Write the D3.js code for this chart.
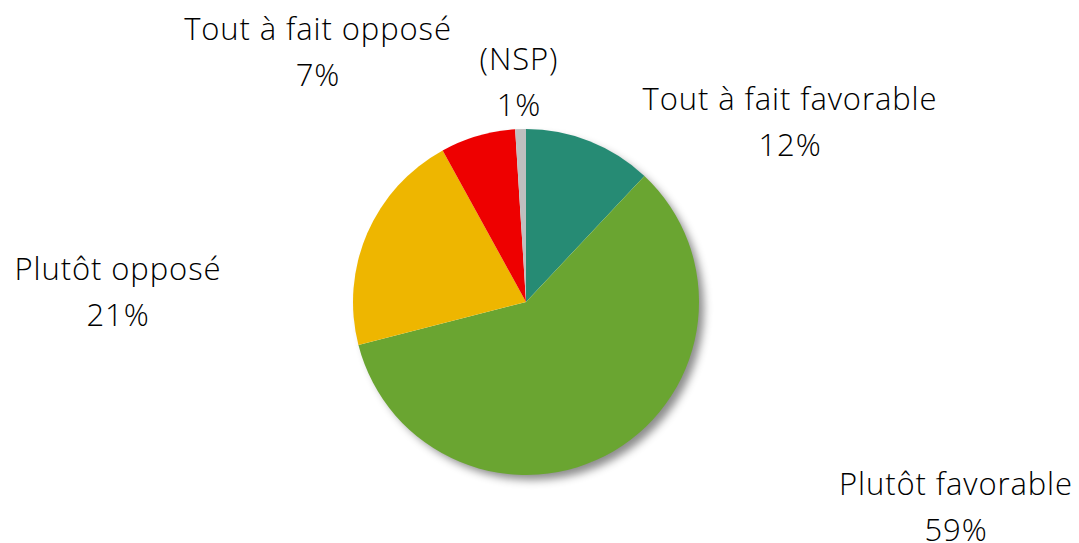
<!DOCTYPE html>
<html><head><meta charset="utf-8">
<script src="https://cdn.jsdelivr.net/npm/d3@7"></script>
<style>html,body{margin:0;padding:0;background:#fff;}svg{display:block;}</style>
</head><body>
<svg id="chart" width="1079" height="543"></svg>
<script>
const categories = ["Tout à fait favorable", "Plutôt favorable", "Plutôt opposé", "Tout à fait opposé", "(NSP)"];
const values = [12, 59, 21, 7, 1];
const colors = ["#268B74", "#6AA531", "#EEB600", "#EE0000", "#BFBFBF"];
const labelPos = [[790, 110], [956, 495], [118, 280], [318, 40], [519, 70]];

const svg = d3.select("#chart");
const cx = 526, cy = 302, r = 173;
const defs = svg.append("defs");
const f = defs.append("filter").attr("id", "sh").attr("x", "-20%").attr("y", "-20%").attr("width", "150%").attr("height", "150%");
f.append("feDropShadow").attr("dx", 6).attr("dy", 6).attr("stdDeviation", 4).attr("flood-color", "#000").attr("flood-opacity", 0.45);

const pie = d3.pie().sort(null).value(d => d)(values);
const arc = d3.arc().innerRadius(0).outerRadius(r);
const g = svg.append("g").attr("transform", `translate(${cx},${cy})`);
g.append("circle").attr("r", r - 1).attr("fill", "#fff").attr("filter", "url(#sh)");
g.selectAll("path").data(pie).enter().append("path")
  .attr("d", arc).attr("fill", (d, i) => colors[i]);

const lab = svg.append("g").attr("font-family", "'Open Sans', sans-serif").attr("font-weight", 300)
  .attr("font-size", 31).attr("letter-spacing", 0.9).attr("fill", "#000").attr("text-anchor", "middle");
categories.forEach((c, i) => {
  const t = lab.append("text").attr("x", labelPos[i][0]).attr("y", labelPos[i][1]);
  t.append("tspan").attr("x", labelPos[i][0]).text(c);
  t.append("tspan").attr("x", labelPos[i][0]).attr("dy", 46).text(values[i] + "%");
});
</script>
</body></html>
